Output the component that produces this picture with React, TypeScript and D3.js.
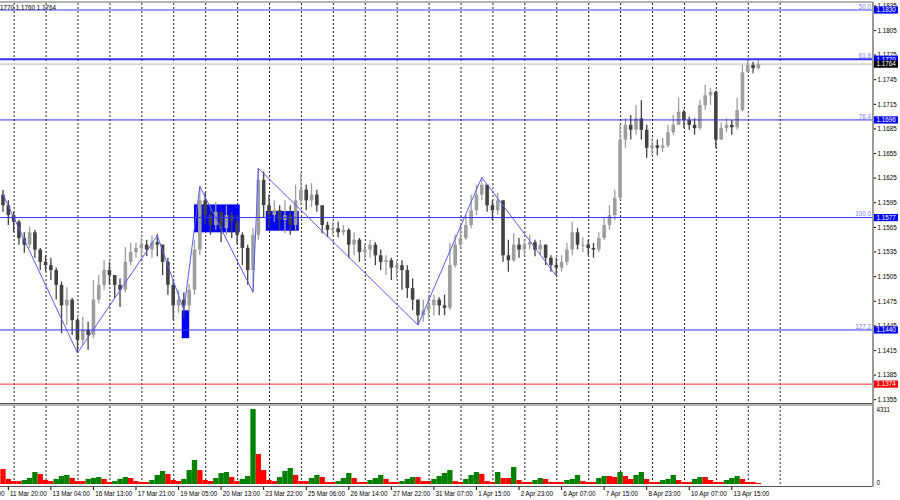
import React from 'react';
import * as d3 from 'd3';

// candles, left to right (open of each bar = close of the bar before)
const firstOpen = 1.1605;
const closes = [
  1.1592, 1.158, 1.1572, 1.1552, 1.1544, 1.1559, 1.1538, 1.1523, 1.1519, 1.1513,
  1.1495, 1.147, 1.1477, 1.1452, 1.1428, 1.144, 1.1434, 1.1477, 1.1495, 1.1513,
  1.1507, 1.1495, 1.1489, 1.1523, 1.1535, 1.154, 1.1544, 1.1538, 1.1547, 1.1544,
  1.1523, 1.1495, 1.147, 1.1477, 1.147, 1.1489, 1.1538, 1.1598, 1.158, 1.1568,
  1.1584, 1.1564, 1.158, 1.1572, 1.1556, 1.154, 1.1513, 1.1556, 1.1623, 1.1592,
  1.158, 1.1586, 1.1574, 1.158, 1.1568, 1.1598, 1.1611, 1.1598, 1.1605, 1.1592,
  1.1568, 1.1562, 1.1564, 1.1559, 1.1562, 1.1544, 1.155, 1.1535, 1.1538, 1.1544,
  1.1531, 1.1523, 1.1525, 1.1516, 1.1519, 1.1513, 1.1491, 1.1477, 1.1458, 1.1464,
  1.147, 1.1477, 1.147, 1.1467, 1.1519, 1.1544, 1.1552, 1.1568, 1.1586, 1.1605,
  1.1617, 1.1592, 1.1586, 1.1598, 1.1531, 1.1525, 1.1544, 1.1538, 1.1544, 1.1547,
  1.1538, 1.1544, 1.1528, 1.1519, 1.1516, 1.1523, 1.1538, 1.1559, 1.1544, 1.1544,
  1.154, 1.1538, 1.1552, 1.1568, 1.158, 1.1601, 1.1672, 1.169, 1.1684, 1.1698,
  1.1684, 1.1662, 1.1665, 1.1662, 1.1665, 1.1681, 1.169, 1.1706, 1.1696, 1.169,
  1.1686, 1.1714, 1.1726, 1.173, 1.1672, 1.1686, 1.169, 1.1687, 1.1708, 1.1754,
  1.1763, 1.1759, 1.1764,
];
const highs = [
  1.1611, 1.1598, 1.1584, 1.1574, 1.1559, 1.1566, 1.1562, 1.154, 1.1531, 1.1528,
  1.1516, 1.1499, 1.1492, 1.1479, 1.1455, 1.1456, 1.145, 1.1501, 1.1507, 1.1525,
  1.1523, 1.1507, 1.1503, 1.1541, 1.1546, 1.1547, 1.1552, 1.155, 1.1555, 1.1557,
  1.1544, 1.1528, 1.1501, 1.1489, 1.1486, 1.1496, 1.155, 1.1615, 1.1608, 1.1592,
  1.1596, 1.1586, 1.1592, 1.1584, 1.158, 1.1559, 1.1544, 1.1564, 1.1637, 1.1633,
  1.1605, 1.1598, 1.1592, 1.1598, 1.1592, 1.1617, 1.1631, 1.1617, 1.1619, 1.1611,
  1.1592, 1.1572, 1.1572, 1.1572, 1.1568, 1.1564, 1.1559, 1.1552, 1.1546, 1.155,
  1.1547, 1.1538, 1.1531, 1.1528, 1.1525, 1.1525, 1.1519, 1.1503, 1.1477, 1.1477,
  1.1483, 1.1483, 1.148, 1.1483, 1.1546, 1.1556, 1.1568, 1.158, 1.1605, 1.1617,
  1.1626, 1.1617, 1.1598, 1.1607, 1.1598, 1.155, 1.1558, 1.1552, 1.155, 1.1556,
  1.155, 1.155, 1.1544, 1.1531, 1.1528, 1.1531, 1.1546, 1.1572, 1.1564, 1.1553,
  1.155, 1.1546, 1.1559, 1.1577, 1.1592, 1.1611, 1.169, 1.1698, 1.1702, 1.1714,
  1.172, 1.169, 1.1674, 1.1672, 1.1674, 1.169, 1.1702, 1.1723, 1.1708, 1.17,
  1.1698, 1.172, 1.1739, 1.1735, 1.1732, 1.1693, 1.1698, 1.1696, 1.1723, 1.1763,
  1.1769, 1.1767, 1.177,
];
const lows = [
  1.1584, 1.1568, 1.1559, 1.1544, 1.1534, 1.154, 1.1528, 1.1513, 1.1511, 1.1501,
  1.1477, 1.1436, 1.1446, 1.1434, 1.1412, 1.1422, 1.1416, 1.143, 1.1473, 1.1489,
  1.1495, 1.1479, 1.1468, 1.1486, 1.1519, 1.1528, 1.1531, 1.153, 1.1528, 1.153,
  1.1507, 1.1483, 1.1452, 1.1461, 1.1455, 1.1462, 1.1483, 1.1531, 1.1568, 1.1556,
  1.1562, 1.1547, 1.1556, 1.1552, 1.1544, 1.1519, 1.1495, 1.1486, 1.155, 1.1577,
  1.1564, 1.1572, 1.1562, 1.1558, 1.1556, 1.1562, 1.1592, 1.1586, 1.159, 1.1584,
  1.1558, 1.1553, 1.1556, 1.1553, 1.1555, 1.1528, 1.1531, 1.1523, 1.1525, 1.1528,
  1.1519, 1.1513, 1.1507, 1.1501, 1.1503, 1.1489, 1.1479, 1.1464, 1.1446, 1.145,
  1.1455, 1.1458, 1.1458, 1.1458, 1.1464, 1.1516, 1.1538, 1.155, 1.1564, 1.158,
  1.1598, 1.1584, 1.1574, 1.158, 1.1523, 1.1511, 1.1523, 1.1528, 1.1531, 1.1538,
  1.153, 1.1531, 1.1519, 1.1511, 1.1506, 1.1511, 1.1519, 1.1531, 1.1538, 1.1535,
  1.1531, 1.1528, 1.1535, 1.155, 1.1562, 1.1574, 1.1598, 1.1662, 1.1672, 1.1678,
  1.1672, 1.165, 1.1653, 1.1653, 1.1657, 1.1662, 1.1678, 1.169, 1.1686, 1.1684,
  1.1678, 1.1684, 1.1708, 1.1714, 1.1662, 1.1672, 1.1681, 1.1678, 1.1684, 1.1706,
  1.1754, 1.1753, 1.1757,
];
const volumes = [
  860, 290, 170, 170, 230, 350, 690, 575, 230, 170,
  290, 460, 520, 350, 170, 170, 290, 350, 400, 290,
  115, 170, 290, 400, 345, 170, 115, 115, 230, 520,
  750, 575, 230, 170, 290, 800, 1380, 800, 230, 170,
  345, 630, 690, 400, 170, 290, 460, 4311, 1725, 800,
  230, 170, 400, 750, 920, 520, 170, 170, 345, 520,
  400, 115, 115, 170, 345, 630, 345, 115, 115, 230,
  345, 520, 290, 115, 115, 170, 290, 400, 400, 170,
  170, 290, 460, 630, 800, 170, 115, 290, 520, 690,
  575, 170, 115, 690, 345, 345, 980, 230, 115, 115,
  230, 345, 290, 115, 115, 115, 230, 290, 520, 170,
  115, 115, 345, 460, 460, 400, 690, 460, 290, 520,
  690, 290, 115, 115, 230, 290, 520, 230, 115, 115,
  290, 400, 400, 230, 115, 115, 230, 345, 460, 290,
  115, 115, 60,
];
const volumeMax = 4311;

// time axis: one label every 8 bars, starting 7 bars before the first one
const timeLabels = [
  '10 Mar 12:00', '11 Mar 20:00', '13 Mar 04:00', '16 Mar 13:00', '17 Mar 21:00',
  '19 Mar 05:00', '20 Mar 13:00', '23 Mar 22:00', '25 Mar 06:00', '26 Mar 14:00',
  '27 Mar 22:00', '31 Mar 07:00', '1 Apr 15:00', '2 Apr 23:00', '6 Apr 07:00',
  '7 Apr 15:00', '8 Apr 23:00', '10 Apr 07:00', '13 Apr 15:00',
];

// fibo levels
const levelPrices = [1.183, 1.177, 1.1696, 1.1577, 1.144];
const levelNames = ['50.0', '61.8', '76.4', '100.0', '127.2'];
const supportPrice = 1.1374;
const lastPrice = 1.1764;
const headerText = '1.1770 1.1760 1.1764';

// zigzag pivots (bar index, price)
const zigzagBars = [0, 14, 29, 34, 37, 47, 48, 78, 90, 104];
const zigzagPrices = [1.1605, 1.1412, 1.1555, 1.1464, 1.1615, 1.1486, 1.1637, 1.1446, 1.1626, 1.1506];

// blue zones
const boxFrom = [33.6, 35.9, 49.4];
const boxTo = [35.0, 44.5, 55.6];
const boxTop = [1.1464, 1.1593, 1.1585];
const boxBottom = [1.143, 1.1559, 1.1561];

const font = "'Liberation Sans', Arial, sans-serif";
const fs = 6.3;

export default function App() {
  const plotRight = 873;
  const mainTop = 3;
  const mainBottom = 403;
  const volTop = 406;
  const volBottom = 486;

  const x = d3.scaleLinear().domain([0, closes.length - 1]).range([3, 758.4]);
  const y = d3.scaleLinear().domain([1.1351, 1.18385]).range([mainBottom, mainTop]);
  const yv = d3.scaleLinear().domain([0, volumeMax]).range([484, 409]);
  const step = x(1) - x(0);

  const opens = closes.map((c, i) => (i === 0 ? firstOpen : closes[i - 1]));
  const priceTicks = d3.range(17).map((k) => 1.1355 + 0.003 * k);
  const daySeps = d3.range(25).map((k) => 2.1 + 6 * k);

  const zigzag = d3
    .line<number>()
    .x((d, i) => x(zigzagBars[i]))
    .y((d) => y(d));

  const priceBox = (p: number, bg: string, key: string) => (
    <g key={key}>
      <rect x={874} y={y(p) - 3.6} width={24} height={7.2} fill={bg} />
      <text x={876.5} y={y(p) + 2.3} fill="#fff" fontSize={fs} fontFamily={font}>
        {p.toFixed(4)}
      </text>
    </g>
  );

  return (
    <svg
      width={900}
      height={500}
      style={{ position: 'absolute', left: 0, top: 0, background: '#fff' }}
    >
      <defs>
        <clipPath id="main">
          <rect x={0} y={mainTop} width={plotRight} height={mainBottom - mainTop} />
        </clipPath>
        <clipPath id="vol">
          <rect x={0} y={volTop} width={plotRight} height={volBottom - volTop} />
        </clipPath>
      </defs>

      {/* day separators */}
      {daySeps.map((d) => (
        <g key={'sep' + d}>
          <line x1={x(d)} x2={x(d)} y1={mainTop} y2={mainBottom} stroke="#222" strokeDasharray="2,2" />
          <line x1={x(d)} x2={x(d)} y1={volTop} y2={volBottom} stroke="#222" strokeDasharray="2,2" />
        </g>
      ))}

      <g clipPath="url(#main)">
        {/* zones */}
        {boxFrom.map((b, i) => (
          <rect
            key={'box' + i}
            x={x(b)}
            y={y(boxTop[i])}
            width={x(boxTo[i]) - x(b)}
            height={y(boxBottom[i]) - y(boxTop[i])}
            fill="#0000ff"
          />
        ))}

        {/* current price line */}
        <line x1={0} x2={plotRight} y1={y(lastPrice)} y2={y(lastPrice)} stroke="#d8d8d8" strokeWidth={2} />

        {/* candles */}
        {closes.map((c, i) => {
          const o = opens[i];
          const up = c >= o;
          const col = up ? '#9e9e9e' : '#424242';
          const top = y(Math.max(o, c));
          const h = Math.max(1, Math.abs(y(o) - y(c)));
          return (
            <g key={'c' + i}>
              <line x1={x(i)} x2={x(i)} y1={y(highs[i])} y2={y(lows[i])} stroke={col} strokeWidth={1.3} />
              <rect x={x(i) - 1.8} y={top} width={3.6} height={h} fill={col} />
            </g>
          );
        })}

        {/* levels */}
        {levelPrices.map((p, i) => (
          <line
            key={'lv' + i}
            x1={0}
            x2={plotRight}
            y1={y(p)}
            y2={y(p)}
            stroke={i === 0 ? '#a0a0f5' : '#3030ff'}
            strokeWidth={i < 2 ? 2 : 1}
          />
        ))}
        <line x1={0} x2={plotRight} y1={y(supportPrice)} y2={y(supportPrice)} stroke="#ff3030" />

        <path d={zigzag(zigzagPrices) || ''} fill="none" stroke="#5a5aff" strokeWidth={1} />

        {levelPrices.map((p, i) => (
          <text
            key={'ln' + i}
            x={871}
            y={y(p) - 1.2}
            textAnchor="end"
            fill="#7d7dff"
            fontSize={fs}
            fontFamily={font}
          >
            {levelNames[i]}
          </text>
        ))}

        <text x={-5.3} y={9.5} fill="#000" fontSize={fs} fontFamily={font}>
          {headerText}
        </text>
      </g>

      {/* volumes */}
      <g clipPath="url(#vol)">
        {volumes.map((v, i) => (
          <rect
            key={'v' + i}
            x={x(i) - step / 2}
            y={yv(v)}
            width={step}
            height={yv(0) - yv(v)}
            fill={i > 0 && v > volumes[i - 1] ? '#008000' : '#ff0000'}
          />
        ))}
      </g>

      {/* frame */}
      <line x1={0} x2={plotRight} y1={2} y2={2} stroke="#666" />
      <line x1={0} x2={plotRight} y1={403.5} y2={403.5} stroke="#555" />
      <rect x={0} y={404} width={plotRight} height={2} fill="#b4b4b4" />
      <line x1={0} x2={plotRight} y1={486.5} y2={486.5} stroke="#555" />
      <line x1={plotRight} x2={plotRight} y1={2} y2={487} stroke="#9a9a9a" strokeWidth={2} />

      {/* price axis */}
      {priceTicks.map((p) => (
        <g key={'t' + p}>
          <line x1={874} x2={876} y1={y(p)} y2={y(p)} stroke="#000" />
          <text x={877.5} y={y(p) + 2.3} fill="#000" fontSize={fs} fontFamily={font}>
            {p.toFixed(4)}
          </text>
        </g>
      ))}
      {levelPrices.map((p, i) => priceBox(p, '#0000ff', 'pb' + i))}
      {priceBox(lastPrice, '#000000', 'last')}
      {priceBox(supportPrice, '#ff0000', 'sup')}

      {/* volume axis */}
      <text x={876.5} y={yv(volumeMax) + 3} fill="#000" fontSize={fs} fontFamily={font}>
        {volumeMax}
      </text>
      <text x={876.5} y={yv(0) + 1} fill="#000" fontSize={fs} fontFamily={font}>
        0
      </text>

      {/* time axis */}
      {timeLabels.map((t, k) => {
        const xi = x(-7 + 8 * k);
        return (
          <g key={'tl' + k}>
            <line x1={xi} x2={xi} y1={487} y2={490} stroke="#000" />
            <text x={xi + 1.7} y={496} fill="#000" fontSize={fs} fontFamily={font}>
              {t}
            </text>
          </g>
        );
      })}
    </svg>
  );
}
